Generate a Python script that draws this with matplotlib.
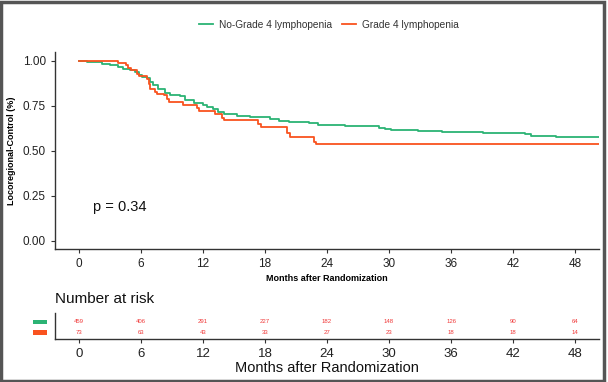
import numpy as np
import matplotlib
matplotlib.use("Agg")
import matplotlib.pyplot as plt
from matplotlib.patches import Rectangle
from matplotlib.lines import Line2D

plt.rcParams['font.family'] = ['Liberation Sans', 'DejaVu Sans']

# Kaplan-Meier steps
green_t = [0, 0.8, 2.2, 3.0, 3.8, 4.3, 5.0, 5.4, 5.8, 6.1, 6.6, 6.9, 7.2, 7.7, 8.3, 8.8,
           9.8, 10.3, 11.1, 12.0, 12.4, 13.0, 13.5, 14.0, 15.3, 16.6, 18.5, 19.4, 20.3,
           22.3, 23.1, 25.7, 29.0, 29.6, 30.2, 32.8, 35.1, 39.1, 43.1, 43.7, 46.1, 50.3]
green_s = [1.0, 0.994, 0.985, 0.976, 0.967, 0.957, 0.948, 0.939, 0.924, 0.911, 0.906, 0.883,
           0.865, 0.846, 0.824, 0.809, 0.804, 0.785, 0.767, 0.757, 0.743, 0.732, 0.715, 0.704,
           0.696, 0.687, 0.678, 0.668, 0.663, 0.654, 0.644, 0.637, 0.629, 0.622, 0.617, 0.613,
           0.607, 0.598, 0.593, 0.585, 0.578, 0.578]

orange_t = [0, 3.8, 4.6, 4.8, 5.05, 5.6, 5.8, 6.6, 6.8, 6.9, 7.4, 7.6, 8.2, 8.5, 8.7, 10.1,
            11.4, 11.6, 13.2, 13.8, 14.0, 17.35, 17.6, 20.15, 20.4, 22.7, 22.9, 50.3]
orange_s = [1.0, 0.99, 0.98, 0.963, 0.948, 0.93, 0.917, 0.90, 0.874, 0.846, 0.83, 0.818, 0.81,
            0.79, 0.772, 0.757, 0.737, 0.72, 0.706, 0.685, 0.672, 0.648, 0.632, 0.598, 0.576,
            0.552, 0.537, 0.537]

risk_times = [0, 6, 12, 18, 24, 30, 36, 42, 48]
risk_green = [459, 406, 291, 227, 182, 148, 126, 90, 64]
risk_orange = [73, 63, 43, 33, 27, 23, 18, 18, 14]

groups = ["No-Grade 4 lymphopenia", "Grade 4 lymphopenia"]
GREEN = "#2BB374"
ORANGE = "#F9531F"
AX_COL = "#333333"

W, H = 608, 382
fig = plt.figure(figsize=(W / 100, H / 100), dpi=100)

# main survival panel
ax = fig.add_axes([55 / W, 1 - 249 / H, (599 - 55) / W, (249 - 52) / H])
ax.step(green_t, green_s, where="post", color=GREEN, lw=1.3)
ax.step(orange_t, orange_s, where="post", color=ORANGE, lw=1.3)
ax.set_xlim(-2.3, 50.3)
ax.set_ylim(-0.045, 1.05)
ax.set_xticks(risk_times)
ax.set_yticks([0, 0.25, 0.5, 0.75, 1.0])
ax.set_yticklabels(["0.00", "0.25", "0.50", "0.75", "1.00"])
for s in ["top", "right"]:
    ax.spines[s].set_visible(False)
for s in ["left", "bottom"]:
    ax.spines[s].set_color(AX_COL)
    ax.spines[s].set_linewidth(1.0)
ax.tick_params(colors=AX_COL, labelcolor="#222222", labelsize=8.5, length=3, width=0.8)
ax.set_xlabel("Months after Randomization", fontsize=6.5, fontweight="bold", labelpad=3)
ax.set_ylabel("Locoregional-Control (%)", fontsize=6.5, fontweight="bold", labelpad=5)
ax.text(1.4, 0.19, "p = 0.34", fontsize=10.5, va="center", ha="left", color="#111111")

handles = [Line2D([], [], color=GREEN, lw=1.3), Line2D([], [], color=ORANGE, lw=1.3)]
fig.legend(handles, groups, loc="center", bbox_to_anchor=(329 / W, 1 - 25 / H), ncol=2,
           frameon=False, fontsize=7.3, handlelength=1.4, columnspacing=1.0,
           handletextpad=0.6, labelcolor="#333333")

# number-at-risk table
rax = fig.add_axes([55 / W, 1 - 339 / H, (599 - 55) / W, (339 - 313) / H])
rax.set_xlim(-2.3, 50.3)
rax.set_ylim(-0.546, 1.818)
for t, g, o in zip(risk_times, risk_green, risk_orange):
    rax.text(t, 1, str(g), fontsize=4.3, color="#F03A3A", ha="center", va="center")
    rax.text(t, 0, str(o), fontsize=4.3, color="#F03A3A", ha="center", va="center")
rax.set_xticks(risk_times)
rax.set_yticks([])
for s in ["top", "right"]:
    rax.spines[s].set_visible(False)
for s in ["left", "bottom"]:
    rax.spines[s].set_color(AX_COL)
    rax.spines[s].set_linewidth(1.0)
rax.tick_params(colors=AX_COL, labelcolor="#222222", labelsize=9.5, length=3, width=0.8)
rax.set_xlabel("Months after Randomization", fontsize=10.5, color="#111111", labelpad=1)
fig.text(55 / W, 1 - 299 / H, "Number at risk", fontsize=11, va="center", ha="left",
         color="#111111")

# coloured keys left of the table rows
fig.add_artist(Rectangle((33 / W, 1 - 323.5 / H), 14 / W, 4 / H, transform=fig.transFigure,
                         color=GREEN, lw=0))
fig.add_artist(Rectangle((33 / W, 1 - 335 / H), 14 / W, 5 / H, transform=fig.transFigure,
                         color=ORANGE, lw=0))

# grey frame around the picture
fig.add_artist(Rectangle((0.002, 0.003), 0.991, 0.993, transform=fig.transFigure,
                         fill=False, edgecolor="#555555", lw=2.5))

fig.savefig("out.png", dpi=100)
